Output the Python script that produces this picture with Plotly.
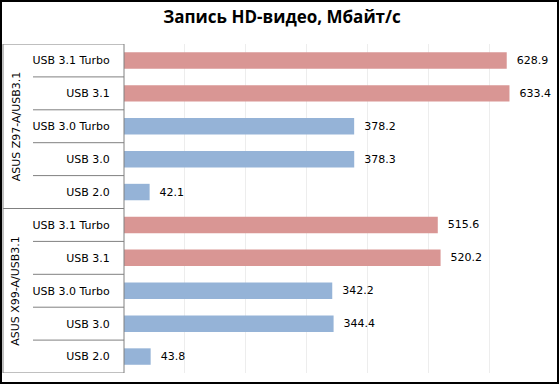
import plotly.graph_objects as go

title = "Запись HD-видео, Мбайт/с"
groups = ["ASUS Z97-A/USB3.1", "ASUS X99-A/USB3.1"]
categories = ["USB 3.1 Turbo", "USB 3.1", "USB 3.0 Turbo", "USB 3.0", "USB 2.0"]
values_z97 = [628.9, 633.4, 378.2, 378.3, 42.1]
values_x99 = [515.6, 520.2, 342.2, 344.4, 43.8]
is_usb31 = [True, True, False, False, False]

PINK = "#D99694"
BLUE = "#95B3D7"
GRAY = "#808080"

W, H = 560, 385
L, R, T, B = 124, 10, 44, 12
pw, ph = W - L - R, H - T - B

def px_x(x):
    return (x - L) / pw

def px_y(y):
    return (H - B - y) / ph

ys, xs, labels, colors = [], [], [], []
all_vals = [values_z97, values_x99]
for gi, vals in enumerate(all_vals):
    for ci, v in enumerate(vals):
        ys.append(gi * len(categories) + ci)
        xs.append(v)
        labels.append(categories[ci])
        colors.append(PINK if is_usb31[ci] else BLUE)

n = len(ys)

fig = go.Figure(go.Bar(
    x=xs, y=ys, orientation="h",
    marker=dict(color=colors, line=dict(width=0)),
    text=[f"{v:.1f}" for v in xs],
    texttemplate="  %{text}",
    textposition="outside",
    textfont=dict(family="DejaVu Sans", size=11, color="#000000"),
    cliponaxis=False,
    width=0.5,
    hoverinfo="skip",
))

shapes = []
line = dict(color=GRAY, width=1)
shapes.append(dict(type="line", xref="paper", yref="y", x0=px_x(3), x1=0,
                   y0=-0.5, y1=-0.5, line=line))
for gi in range(len(groups)):
    base = gi * len(categories)
    for ci in range(1, len(categories)):
        shapes.append(dict(type="line", xref="paper", yref="y", x0=px_x(33), x1=0,
                           y0=base + ci - 0.5, y1=base + ci - 0.5, line=line))
    shapes.append(dict(type="line", xref="paper", yref="y", x0=px_x(3), x1=0,
                       y0=base + len(categories) - 0.5, y1=base + len(categories) - 0.5,
                       line=line))
shapes.append(dict(type="line", xref="paper", yref="y", x0=px_x(3), x1=px_x(3),
                   y0=-0.5, y1=n - 0.5, line=line))
shapes.append(dict(type="line", xref="paper", yref="y", x0=0, x1=0,
                   y0=-0.5, y1=n - 0.5, line=line))
shapes.append(dict(type="rect", xref="paper", yref="paper",
                   x0=px_x(1), x1=px_x(558), y0=px_y(383), y1=px_y(1),
                   line=dict(color="#000000", width=2)))

annotations = []
for gi, g in enumerate(groups):
    annotations.append(dict(
        text=g, xref="paper", yref="y", x=px_x(16),
        y=gi * len(categories) + (len(categories) - 1) / 2,
        textangle=-90, showarrow=False, xanchor="center", yanchor="middle",
        font=dict(family="DejaVu Sans", size=11, color="#000000"),
    ))

fig.update_layout(
    width=W, height=H,
    margin=dict(l=L, r=R, t=T, b=B, pad=0, autoexpand=False),
    paper_bgcolor="#FFFFFF", plot_bgcolor="#FFFFFF",
    title=dict(text=f"<b>{title}</b>", x=282 / W, xref="container", y=1 - 17 / H,
               yanchor="middle", xanchor="center",
               font=dict(family="Open Sans", size=17, color="#000000")),
    showlegend=False,
    shapes=shapes,
    annotations=annotations,
    bargap=0.5,
)
fig.update_xaxes(range=[0, 700], dtick=100, showgrid=True, gridcolor="#EDEDED",
                 gridwidth=1, showticklabels=False, zeroline=False, ticks="",
                 showline=False, automargin=False)
fig.update_yaxes(tickvals=ys, ticktext=labels, autorange=False, range=[n - 0.5, -0.5],
                 showgrid=False, zeroline=False, ticks="outside", ticklen=11,
                 tickcolor="rgba(0,0,0,0)", showline=False, automargin=False,
                 tickfont=dict(family="DejaVu Sans", size=11, color="#000000"))

fig.write_html("out.html", config={"displayModeBar": False},
               post_script="document.body.style.margin='0';document.body.style.overflow='hidden';")
